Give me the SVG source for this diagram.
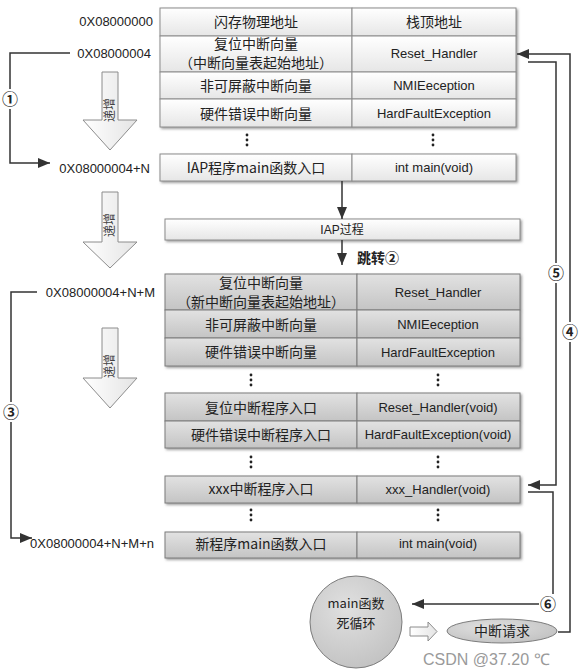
<svg xmlns="http://www.w3.org/2000/svg" width="587" height="672" viewBox="0 0 587 672">
<defs>
<linearGradient id="gW" x1="0" y1="0" x2="0" y2="1"><stop offset="0" stop-color="#ffffff"/><stop offset="1" stop-color="#e6e6e6"/></linearGradient>
<linearGradient id="gG" x1="0" y1="0" x2="0" y2="1"><stop offset="0" stop-color="#e2e2e2"/><stop offset="1" stop-color="#c4c4c4"/></linearGradient>
<linearGradient id="gA" x1="0" y1="0" x2="1" y2="0"><stop offset="0" stop-color="#ffffff"/><stop offset="1" stop-color="#e4e4e4"/></linearGradient>
<radialGradient id="gC" cx="0.4" cy="0.35" r="0.7"><stop offset="0" stop-color="#e0e0e0"/><stop offset="1" stop-color="#c2c2c2"/></radialGradient>
<filter id="sh" x="-5%" y="-20%" width="110%" height="150%"><feDropShadow dx="1.5" dy="1.5" stdDeviation="0.8" flood-color="#777" flood-opacity="0.7"/></filter>
<marker id="ah" markerUnits="userSpaceOnUse" markerWidth="13" markerHeight="10" refX="12" refY="5" orient="auto"><path d="M0,0 L12,5 L0,10 Z" fill="#333"/></marker>
</defs>
<style>
.cw{fill:url(#gW);stroke:#8c8c8c;stroke-width:1}
.cg{fill:url(#gG);stroke:#7c7c7c;stroke-width:1}
.zh{font-family:"Noto Sans CJK SC","Liberation Sans",sans-serif;font-size:14px;fill:#222;text-anchor:middle}
.en{font-family:"Liberation Sans","Noto Sans CJK SC",sans-serif;font-size:13px;fill:#222;text-anchor:middle}
.adr{font-family:"Liberation Sans",sans-serif;font-size:13px;fill:#222;text-anchor:end}
.ln{fill:none;stroke:#333;stroke-width:1.5}
.num{font-family:"Noto Sans CJK SC","DejaVu Sans",sans-serif;font-size:16px;font-weight:bold;fill:#222;text-anchor:middle}
.dot{fill:#222}
.ha{fill:url(#gA);stroke:#8c8c8c;stroke-width:1}
.ar{font-family:"Noto Sans CJK SC",sans-serif;font-size:12px;fill:#444;text-anchor:middle}
</style>

<g id="labels">
<text class="adr" x="153" y="26">0X08000000</text>
<text class="adr" x="151" y="58">0X08000004</text>
<text class="adr" x="150" y="173">0X08000004+N</text>
<text class="adr" x="155" y="297">0X08000004+N+M</text>
<text class="adr" x="154" y="548">0X08000004+N+M+n</text>
</g>

<g id="top-table" filter="url(#sh)">
<rect class="cw" x="160" y="8" width="192" height="28"/><rect class="cw" x="352" y="8" width="164" height="28"/>
<rect class="cw" x="160" y="36" width="192" height="36"/><rect class="cw" x="352" y="36" width="164" height="36"/>
<rect class="cw" x="160" y="72" width="192" height="27"/><rect class="cw" x="352" y="72" width="164" height="27"/>
<rect class="cw" x="160" y="99" width="192" height="28"/><rect class="cw" x="352" y="99" width="164" height="28"/>
</g>
<g id="top-table-text">
<text class="zh" x="256" y="27">闪存物理地址</text><text class="zh" x="434" y="27">栈顶地址</text>
<text class="zh" x="256" y="49">复位中断向量</text><text class="zh" x="256" y="68">（中断向量表起始地址）</text><text class="en" x="434" y="58">Reset_Handler</text>
<text class="zh" x="256" y="91">非可屏蔽中断向量</text><text class="en" x="434" y="90">NMIEeception</text>
<text class="zh" x="256" y="119">硬件错误中断向量</text><text class="en" x="434" y="118">HardFaultException</text>
<circle class="dot" cx="247" cy="135" r="1.4"/><circle class="dot" cx="247" cy="140" r="1.4"/><circle class="dot" cx="247" cy="145" r="1.4"/>
<circle class="dot" cx="433" cy="135" r="1.4"/><circle class="dot" cx="433" cy="140" r="1.4"/><circle class="dot" cx="433" cy="145" r="1.4"/>
</g>

<g id="iap-main" filter="url(#sh)">
<rect class="cw" x="160" y="154" width="192" height="27"/><rect class="cw" x="352" y="154" width="164" height="27"/>
</g>
<g id="iap-main-text">
<text class="zh" x="256" y="173">IAP程序main函数入口</text><text class="en" x="434" y="172">int main(void)</text>
</g>

<g id="iap-process">
<rect class="cw" x="165" y="219" width="355" height="21" filter="url(#sh)"/>
<text class="en" x="342" y="234" style="font-size:12px">IAP过程</text>
</g>

<g id="new-table" filter="url(#sh)">
<rect class="cg" x="165" y="274" width="192" height="36"/><rect class="cg" x="357" y="274" width="163" height="36"/>
<rect class="cg" x="165" y="310" width="192" height="28"/><rect class="cg" x="357" y="310" width="163" height="28"/>
<rect class="cg" x="165" y="338" width="192" height="28"/><rect class="cg" x="357" y="338" width="163" height="28"/>
</g>
<g id="new-table-text">
<text class="zh" x="261" y="288">复位中断向量</text><text class="zh" x="261" y="307">（新中断向量表起始地址）</text><text class="en" x="438" y="297">Reset_Handler</text>
<text class="zh" x="261" y="330">非可屏蔽中断向量</text><text class="en" x="438" y="329">NMIEeception</text>
<text class="zh" x="261" y="357">硬件错误中断向量</text><text class="en" x="438" y="357">HardFaultException</text>
<circle class="dot" cx="251" cy="375" r="1.4"/><circle class="dot" cx="251" cy="380" r="1.4"/><circle class="dot" cx="251" cy="385" r="1.4"/>
<circle class="dot" cx="438" cy="375" r="1.4"/><circle class="dot" cx="438" cy="380" r="1.4"/><circle class="dot" cx="438" cy="385" r="1.4"/>
</g>

<g id="handlers" filter="url(#sh)">
<rect class="cg" x="165" y="393" width="192" height="28"/><rect class="cg" x="357" y="393" width="163" height="28"/>
<rect class="cg" x="165" y="421" width="192" height="27"/><rect class="cg" x="357" y="421" width="163" height="27"/>
</g>
<g id="handlers-text">
<text class="zh" x="261" y="413">复位中断程序入口</text><text class="en" x="438" y="412">Reset_Handler(void)</text>
<text class="zh" x="261" y="440">硬件错误中断程序入口</text><text class="en" x="438" y="439">HardFaultException(void)</text>
<circle class="dot" cx="251" cy="457" r="1.4"/><circle class="dot" cx="251" cy="462" r="1.4"/><circle class="dot" cx="251" cy="467" r="1.4"/>
<circle class="dot" cx="438" cy="457" r="1.4"/><circle class="dot" cx="438" cy="462" r="1.4"/><circle class="dot" cx="438" cy="467" r="1.4"/>
</g>

<g id="xxx-handler" filter="url(#sh)">
<rect class="cg" x="165" y="476" width="192" height="27"/><rect class="cg" x="357" y="476" width="163" height="27"/>
</g>
<g id="xxx-handler-text">
<text class="zh" x="261" y="494">xxx中断程序入口</text><text class="en" x="438" y="494">xxx_Handler(void)</text>
<circle class="dot" cx="251" cy="510" r="1.4"/><circle class="dot" cx="251" cy="515" r="1.4"/><circle class="dot" cx="251" cy="520" r="1.4"/>
<circle class="dot" cx="438" cy="510" r="1.4"/><circle class="dot" cx="438" cy="515" r="1.4"/><circle class="dot" cx="438" cy="520" r="1.4"/>
</g>

<g id="new-main" filter="url(#sh)">
<rect class="cg" x="165" y="532" width="192" height="26"/><rect class="cg" x="357" y="532" width="163" height="26"/>
</g>
<g id="new-main-text">
<text class="zh" x="261" y="549">新程序main函数入口</text><text class="en" x="438" y="548">int main(void)</text>
</g>

<g id="inc-arrows">
<path class="ha" d="M102,72 H118 V120 H137 L110,150 L83,120 H102 Z"/>
<text class="ar" transform="translate(114,110) rotate(-90)">递增</text>
<path class="ha" d="M102,192 H118 V242 H137 L110,268 L83,242 H102 Z"/>
<text class="ar" transform="translate(114,225) rotate(-90)">递增</text>
<path class="ha" d="M102,328 H118 V378 H137 L110,408 L83,378 H102 Z"/>
<text class="ar" transform="translate(114,366) rotate(-90)">递增</text>
</g>

<g id="main-loop">
<circle cx="356" cy="622" r="46" fill="url(#gC)" stroke="#7c7c7c" stroke-width="1"/>
<text class="zh" x="356" y="608" style="font-size:13px">main函数</text>
<text class="zh" x="356" y="628" style="font-size:13px">死循环</text>
</g>

<g id="irq">
<ellipse cx="502" cy="631" rx="55" ry="12" fill="url(#gC)" stroke="#7c7c7c" stroke-width="1"/>
<text class="zh" x="502" y="636">中断请求</text>
</g>

<g id="connectors">
<polyline class="ln" points="70,53 10,53 10,163 50,163" marker-end="url(#ah)"/>
<polyline class="ln" points="37,292 11,292 11,538 32,538" marker-end="url(#ah)"/>
<line class="ln" x1="342" y1="181" x2="342" y2="219" marker-end="url(#ah)"/>
<line class="ln" x1="342" y1="240" x2="342" y2="265" marker-end="url(#ah)"/>
<polyline class="ln" points="558,632 570,632 570,54 517,54" marker-end="url(#ah)"/>
<polyline class="ln" points="528,62 556,62 556,485 528,485" marker-end="url(#ah)"/>
<polyline class="ln" points="528,492 553,492 553,604 412,604" marker-end="url(#ah)"/>
<path d="M410,627 H428 V622 L437,631.5 L428,641 V636 H410 Z" fill="url(#gA)" stroke="#8c8c8c" stroke-width="1"/>
</g>

<g id="conn-labels">
<rect x="1" y="89" width="18" height="20" fill="#fff"/><text class="num" x="10" y="105">①</text>
<text class="num" x="378" y="263" style="font-size:14px">跳转②</text>
<rect x="2" y="402" width="18" height="20" fill="#fff"/><text class="num" x="11" y="418">③</text>
<rect x="561" y="322" width="18" height="20" fill="#fff"/><text class="num" x="570" y="338">④</text>
<rect x="547" y="263" width="18" height="20" fill="#fff"/><text class="num" x="556" y="279">⑤</text>
<rect x="539" y="594" width="18" height="20" fill="#fff"/><text class="num" x="548" y="610">⑥</text>
</g>

<text x="423" y="665" style="font-family:'Liberation Sans',sans-serif;font-size:16px;fill:#9a9a9a">CSDN @37.20 ℃</text>
</svg>
